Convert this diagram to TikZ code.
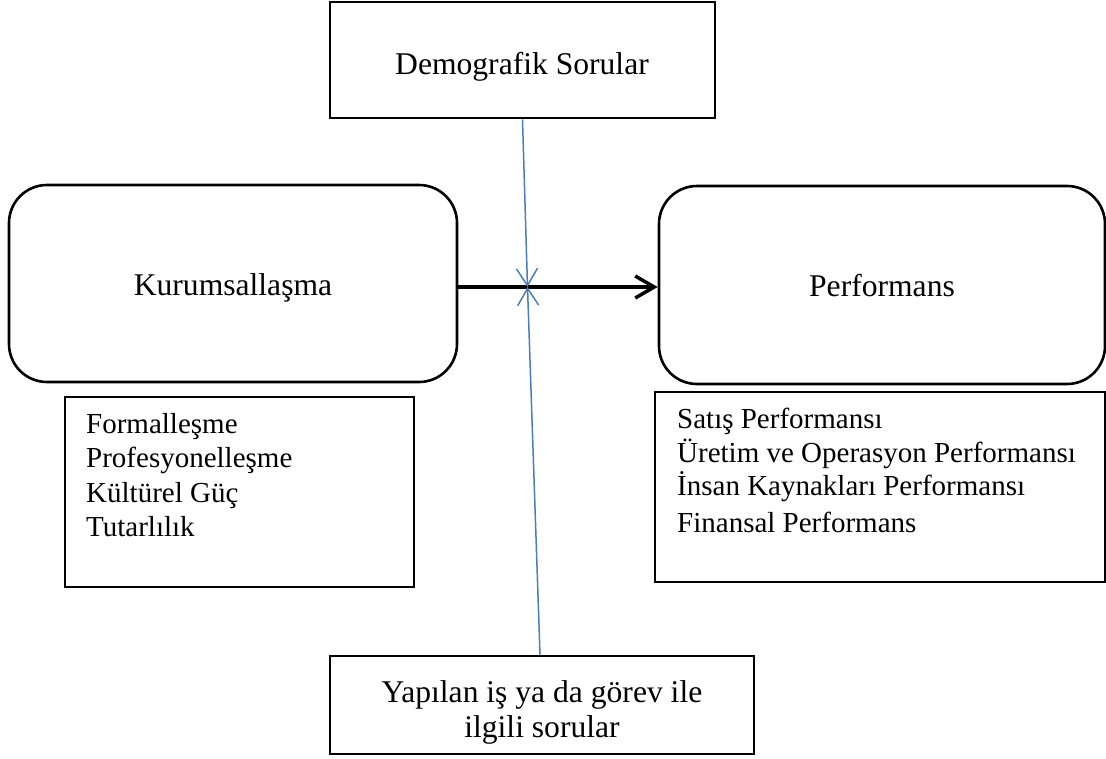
\documentclass[tikz,border=0pt]{standalone}
\usepackage{fontspec}
\setmainfont{Liberation Serif}
\usetikzlibrary{arrows.meta}
\definecolor{lineblue}{RGB}{74,126,187}
\begin{document}
\begin{tikzpicture}[x=1pt,y=-1pt,
  box/.style={draw=black, line width=2.8pt, inner sep=0pt},
  roundbox/.style={draw=black, line width=2.6pt, inner sep=0pt, rounded corners=38pt},
  listbox/.style={draw=black, line width=1.4pt, inner sep=0pt},
  bigtext/.style={font=\fontsize{31.6}{36}\selectfont, inner sep=0pt, anchor=base},
  listtext/.style={font=\fontsize{29}{34}\selectfont, inner sep=0pt, anchor=base west},
  blueline/.style={draw=lineblue, line width=1.5pt, -{Straight Barb[length=17pt,width=21pt]}},
  mainarrow/.style={draw=black, line width=3.5pt, -{Straight Barb[length=19pt,width=22pt]}}]
\useasboundingbox (0,0) rectangle (1106,758);

% boxes
\node[box, minimum width=385pt, minimum height=116pt] (demo) at (522.5,60) {};
\node[roundbox, minimum width=448pt, minimum height=197pt] (kur) at (233,283.5) {};
\node[roundbox, minimum width=446pt, minimum height=198pt] (perf) at (882,285) {};
\node[listbox, minimum width=349pt, minimum height=190pt] (llist) at (239.5,492) {};
\node[listbox, minimum width=450pt, minimum height=190pt] (rlist) at (880,487) {};
\node[box, minimum width=424pt, minimum height=98pt] (bot) at (542,705) {};

% texts
\node[bigtext] (demot) at (522,74) {Demografik Sorular};
\node[bigtext] (kurt) at (233,295) {Kurumsallaşma};
\node[bigtext] (perft) at (882,296) {Performans};
\node[bigtext] (bott1) at (542,702) {Yapılan iş ya da görev ile};
\node[bigtext] (bott2) at (542,737) {ilgili sorular};

\node[listtext] (l1) at (86,433) {Formalleşme};
\node[listtext] (l2) at (86,467) {Profesyonelleşme};
\node[listtext] (l3) at (86,502) {Kültürel Güç};
\node[listtext] (l4) at (86,536) {Tutarlılık};

\node[listtext] (r1) at (677,428) {Satış Performansı};
\node[listtext] (r2) at (677,462) {Üretim ve Operasyon Performansı};
\node[listtext] (r3) at (677,495) {İnsan Kaynakları Performansı};
\node[listtext] (r4) at (677,532) {Finansal Performans};

% connectors
\coordinate (X) at (527.5,287);
\draw[mainarrow] (kur.east |- X) -- (perf.west |- X);
\draw[blueline] (demo.south) -- (X);
\draw[blueline] ([xshift=-2pt]bot.north) -- (X);
\end{tikzpicture}
\end{document}
